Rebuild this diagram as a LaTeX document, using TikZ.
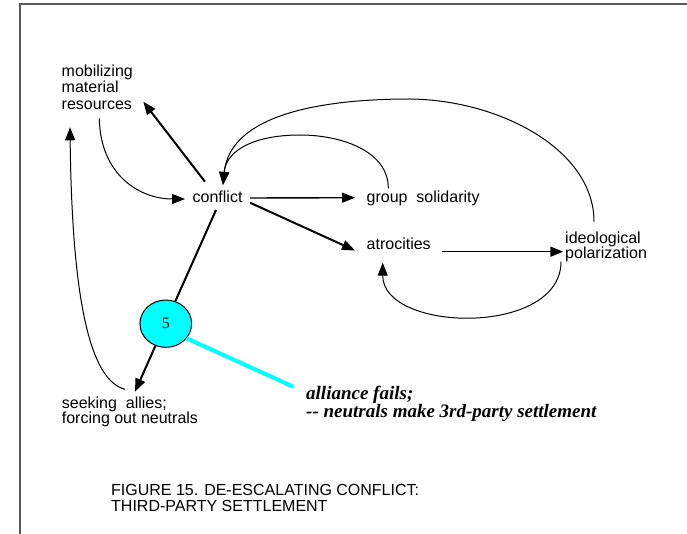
\documentclass[tikz,border=0pt]{standalone}
\usepackage{fontspec}
\setmainfont{Liberation Sans}
\newfontfamily\notefont{Liberation Serif}
\usetikzlibrary{arrows.meta,shapes.geometric}
\definecolor{framegray}{gray}{0.35}
\definecolor{bubble}{RGB}{0,255,255}
\begin{document}
\begin{tikzpicture}[x=1pt,y=-1pt,
  txt/.style={inner sep=0pt,anchor=base west,align=left,font=\fontsize{16}{16.3}\selectfont},
  tighttxt/.style={txt,font=\fontsize{16}{15.5}\selectfont},
  arr/.style={-{Triangle[length=13pt,width=10pt]}},
  heavy/.style={arr,line width=2pt},
  medium/.style={arr,line width=1.4pt},
  light/.style={arr,line width=1pt},
]
\useasboundingbox (0,0) rectangle (687,534);
% open frame: top and left edges
\draw[framegray,line width=1.5pt] (20,534) -- (20,4) -- (687,4);

% labels (multi-line nodes are placed by the baseline of their last line)
\node[txt] (mob) at (61.5,109.1) {mobilizing\\material\\resources};
\node[txt] (conflict) at (192.5,202.7) {conflict};
\node[txt] (grp) at (366.5,202.7) {group\ \ solidarity};
\node[txt] (atro) at (366.5,250) {atrocities};
\node[tighttxt] (ideo) at (565,258.8) {ideological\\polarization};
\node[tighttxt] (seek) at (61.7,423.8) {seeking\ \ allies;\\forcing out neutrals};
\node[txt,font=\fontsize{16}{16}\selectfont] (cap) at (111,511)
  {FIGURE 15. DE-ESCALATING CONFLICT:\\THIRD-PARTY SETTLEMENT};
\node[inner sep=0pt,anchor=base west,align=left,
  font=\notefont\bfseries\itshape\fontsize{19}{16.3}\selectfont] (note) at (306,417.3)
  {alliance fails;\\-{}- neutrals make 3rd-party settlement};

% straight links
\draw[heavy] ([shift={(12.5,-21)}]conflict.base west) -- ([shift={(81.8,-7.4)}]mob.base west);
\draw[medium] ([shift={(57.5,-4.7)}]conflict.base west) -- ([shift={(-11.5,-5)}]grp.base west);
\draw[heavy] ([shift={(57.5,0)}]conflict.base west) -- ([shift={(-11.5,0.5)}]atro.base west);
\draw[medium] ([shift={(75.2,1.7)}]atro.base west) -- ([shift={(-1.7,-7.1)}]ideo.base west);
\draw[heavy] ([shift={(23.5,7.3)}]conflict.base west) -- ([shift={(73.3,-32.1)}]seek.base west);

% curved feedback links
\draw[light] ([shift={(37.8,9.2)}]mob.base west)
  .. controls +(1,57) and +(-45,0) .. ([shift={(-7.5,-3.7)}]conflict.base west);
\draw[light] ([shift={(-4,2.9)}]ideo.base west)
  .. controls +(0,75) and +(0,70) .. ([shift={(16.2,12.7)}]atro.base west);
\draw[light] ([shift={(21.8,-14.4)}]grp.base west)
  .. controls +(0,-38) and (340,135) .. (300,135)
  .. controls (255,135) and +(3,-35) .. ([shift={(30.5,-17.7)}]conflict.base west);
\draw[light] ([shift={(29,-37.1)}]ideo.base west)
  .. controls +(0,-72) and (500,100) .. (410,99)
  .. controls (320,99) and +(7,-70) .. ([shift={(30.5,-17.7)}]conflict.base west);
\draw[light] ([shift={(63.3,-34.5)}]seek.base west)
  .. controls +(-35,-9) and +(2,173) .. ([shift={(8.5,18.2)}]mob.base west);

% settlement marker
\node[ellipse,draw,line width=1pt,fill=bubble,minimum width=51.7pt,minimum height=47.3pt,
  inner sep=0pt,font=\notefont\fontsize{16}{16}\selectfont] (five) at (165.8,323.7) {5};
\coordinate (callout) at (293.3,386.7);
\draw[bubble,line width=4pt] (five.-35) -- (callout);
\end{tikzpicture}
\end{document}
